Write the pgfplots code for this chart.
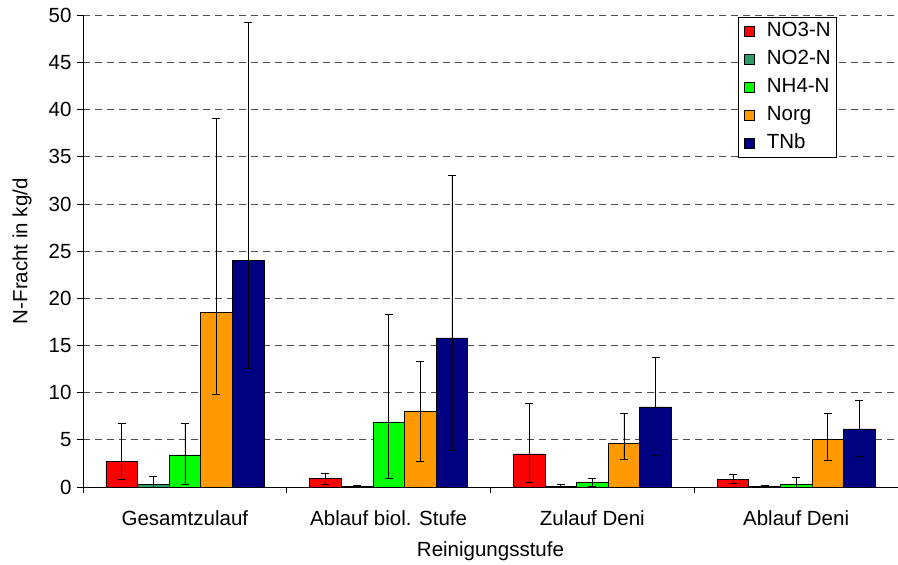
\documentclass[border=0pt]{standalone}
\usepackage{pgfplots}
\pgfplotsset{compat=1.18}
\usepackage{pgfplotstable}
\usepackage{fontspec}
\setmainfont{Liberation Sans}
\definecolor{cNOthree}{HTML}{FF0000}
\definecolor{cNOtwo}{HTML}{339966}
\definecolor{cNHfour}{HTML}{00FF00}
\definecolor{cNorg}{HTML}{FF9900}
\definecolor{cTNb}{HTML}{000080}

\pgfplotstableread{
x y ep em
0 2.7 4.1 1.9
1 0.9 0.5 0.6
2 3.5 5.4 3.05
3 0.8 0.5 0.4
}\tNOthree
\pgfplotstableread{
x y ep em
0 0.3 0.8 0.3
1 0.05 0.15 0.05
2 0.1 0.2 0.1
3 0.1 0.08 0.1
}\tNOtwo
\pgfplotstableread{
x y ep em
0 3.4 3.3 3.15
1 6.9 11.4 6.0
2 0.5 0.4 0.45
3 0.3 0.7 0.3
}\tNHfour
\pgfplotstableread{
x y ep em
0 18.5 20.6 8.65
1 8.0 5.3 5.3
2 4.6 3.2 1.7
3 5.05 2.75 2.25
}\tNorg
\pgfplotstableread{
x y ep em
0 24.0 25.3 11.4
1 15.8 17.2 11.95
2 8.5 5.2 5.1
3 6.15 3.0 2.85
}\tTNb

\begin{document}
\begin{tikzpicture}
\path[use as bounding box] (-83pt,-78pt) rectangle (815pt,487pt);
\begin{axis}[
  scale only axis, width=815pt, height=471.7pt,
  at={(0pt,0pt)}, anchor=south west,
  xmin=-0.5, xmax=3.5, ymin=0, ymax=50,
  ybar=0pt, bar width=31.6pt,
  axis x line*=bottom, axis y line*=left,
  axis line style={black, line width=0.8pt},
  xtick={-0.5,0.5,1.5,2.5,3.5},
  xticklabels={},
  extra x ticks={0,1,2,3},
  extra x tick labels={Gesamtzulauf, Ablauf biol. Stufe, Zulauf Deni, Ablauf Deni},
  extra x tick style={major tick length=0pt, xticklabel style={yshift=-20pt}},
  ytick={0,5,...,50},
  yticklabel style={xshift=-2pt},
  /pgf/number format/assume math mode=true,
  tick align=outside, major tick length=6pt,
  tick style={black, line width=0.8pt},
  ymajorgrids,
  grid style={black!70, line width=0.7pt, dash pattern=on 7pt off 5pt},
  ticklabel style={font=\fontsize{20.5}{23}\selectfont},
  xlabel={Reinigungsstufe},
  ylabel={N-Fracht in kg/d},
  label style={font=\fontsize{20.5}{23}\selectfont},
  xlabel style={at={(rel axis cs:0.5,0)}, yshift=-64pt, anchor=center},
  ylabel style={at={(rel axis cs:0,0.5)}, yshift=61pt, anchor=center},
  legend style={at={(rel axis cs:0.8037,0.997)}, anchor=north west,
    draw=black, line width=0.8pt, fill=white,
    font=\fontsize{20.5}{23}\selectfont,
    inner xsep=6pt, inner ysep=5pt, row sep=10pt,
    nodes={inner sep=0pt, text height=14pt, text depth=4pt},
    /tikz/every odd column/.append style={column sep=12pt}},
  legend cell align=left,
  legend image code/.code={\draw[#1,draw=black,line width=0.5pt] (0pt,-5pt) rectangle (10pt,5pt);},
  every axis plot/.append style={draw=black, line width=0.6pt},
  error bars/y dir=both, error bars/y explicit,
  error bars/error mark options={rotate=90, mark size=4pt, black, line width=0.6pt},
  error bars/error bar style={black, line width=0.6pt},
]
\addplot[fill=cNOthree] table[x=x, y=y, y error plus=ep, y error minus=em] {\tNOthree};
\addplot[fill=cNOtwo] table[x=x, y=y, y error plus=ep, y error minus=em] {\tNOtwo};
\addplot[fill=cNHfour] table[x=x, y=y, y error plus=ep, y error minus=em] {\tNHfour};
\addplot[fill=cNorg] table[x=x, y=y, y error plus=ep, y error minus=em] {\tNorg};
\addplot[fill=cTNb] table[x=x, y=y, y error plus=ep, y error minus=em] {\tTNb};
\legend{NO3-N, NO2-N, NH4-N, Norg, TNb}
\end{axis}
\end{tikzpicture}
\end{document}
